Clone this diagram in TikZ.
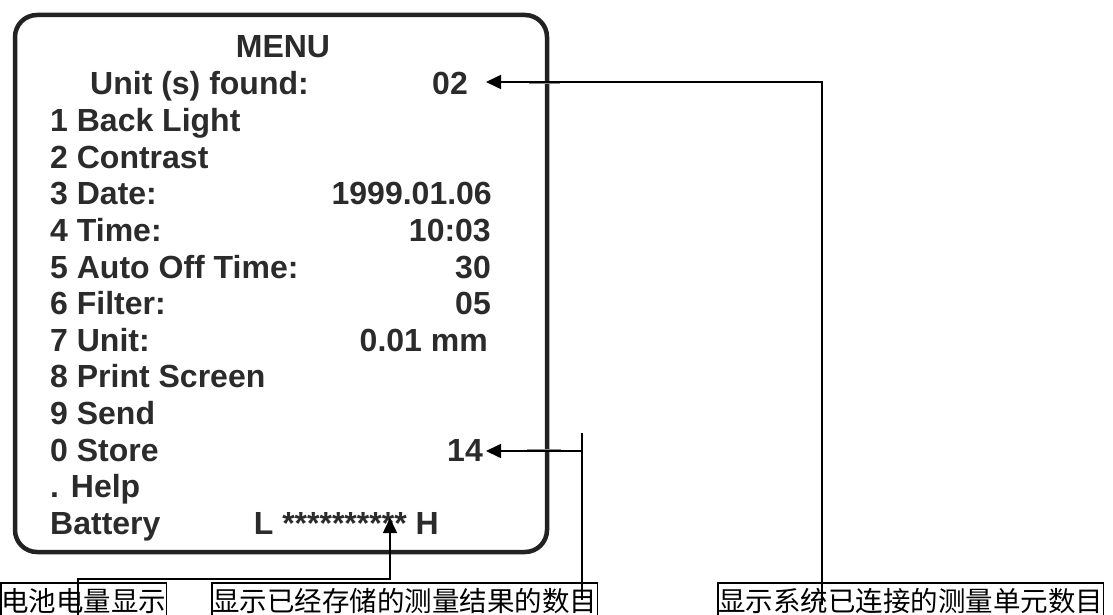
\documentclass[tikz,border=0pt]{standalone}
\usepackage{fontspec}
\setmainfont{Liberation Sans}
\newfontfamily\cjk{Noto Sans CJK SC}
\usetikzlibrary{arrows.meta}
\definecolor{ink}{HTML}{2B2B2B}
\definecolor{frame}{HTML}{222222}
\definecolor{tickgray}{HTML}{8C8C8C}
\begin{document}
\begin{tikzpicture}[x=1pt,y=-1pt,
  menu/.style={font=\fontsize{32}{36}\selectfont\bfseries, text=ink, inner sep=0pt},
  lft/.style={menu, anchor=base west},
  rgt/.style={menu, anchor=base east},
  lbl/.style={draw, line width=1.6pt, font=\cjk\fontsize{27.5}{30}\selectfont,
    anchor=north west, inner xsep=0.4pt, inner ysep=0pt, text height=29pt, text depth=10pt},
  conn/.style={line width=1.6pt},
  arr/.style={conn, -{Triangle[length=15pt,width=14pt]}},
  tickmark/.style={line width=3pt, tickgray}]
\useasboundingbox (0,0) rectangle (1113,615);
\clip (0,0) rectangle (1113,615);
% screen frame
\draw[frame, line width=4.5pt, rounded corners=22pt] (15,15) rectangle (547,552);
% menu text
\node[menu, anchor=base] (title) at (283,58) {MENU};
\node[lft] (units) at (90,95) {Unit (s) found:};
\node[rgt] (unitsv) at (468,95) {02};
\node[lft] (l1) at (50,131.6) {1 Back Light};
\node[lft] (l2) at (50,168.2) {2 Contrast};
\node[lft] (l3) at (50,204.8) {3 Date:};
\node[rgt] (v3) at (492,204.8) {1999.01.06};
\node[lft] (l4) at (50,241.4) {4 Time:};
\node[rgt] (v4) at (491,241.4) {10:03};
\node[lft] (l5) at (50,278) {5 Auto Off Time:};
\node[rgt] (v5) at (491,278) {30};
\node[lft] (l6) at (50,314.6) {6 Filter:};
\node[rgt] (v6) at (491,314.6) {05};
\node[lft] (l7) at (50,351.2) {7 Unit:};
\node[rgt] (v7) at (488,351.2) {0.01 mm};
\node[lft] (l8) at (50,387.8) {8 Print Screen};
\node[lft] (l9) at (50,424.4) {9 Send};
\node[lft] (l0) at (50,461) {0 Store};
\node[rgt] (v0) at (483,461) {14};
\node[lft] (lh) at (50,497.6) {. Help};
\node[lft] (lb) at (50,534.2) {Battery};
\node[rgt] (vb) at (439,534.2) {L ********** H};
% gray ticks on frame
\draw[tickmark] (529,83) -- (560,83);
\draw[tickmark] (527,450) -- (561,450);
% labels
\node[lbl] (lab1) at (0,582) {电池电量显示};
\node[lbl] (lab2) at (211,582) {显示已经存储的测量结果的数目};
\node[lbl] (lab3) at (717,582) {显示系统已连接的测量单元数目};
% connectors
\coordinate (b0) at (78,615);
\coordinate (b1) at (78,579);
\coordinate (btip) at (390,518);
\draw[arr] (b0) -- (b1) -| (btip);
\coordinate (s0) at (582,433);
\coordinate (s1) at (582,600);
\coordinate (s2) at (582,451);
\coordinate (stip) at (486,451);
\draw[conn] (s0) -- (s1);
\draw[arr] (s2) -- (stip);
\coordinate (u0) at (822,605);
\coordinate (u1) at (822,82);
\coordinate (utip) at (486,82);
\draw[arr] (u0) -- (u1) -- (utip);
\end{tikzpicture}
\end{document}
